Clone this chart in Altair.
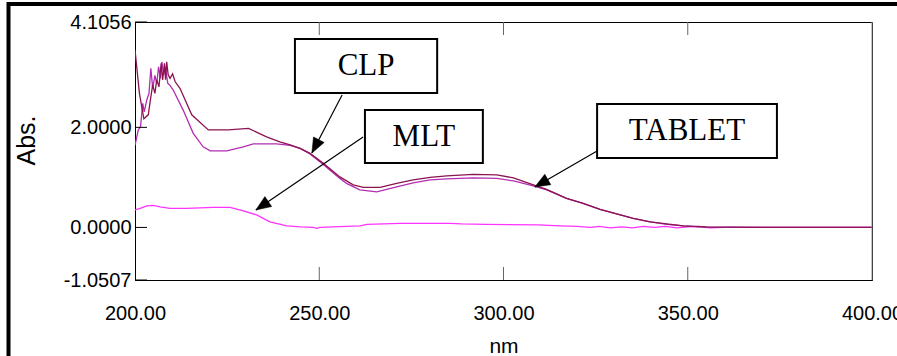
import math
import altair as alt
import pandas as pd

# ---------------- data ----------------
clp_nm = [200.0, 201.2, 202.4, 203.6, 204.3, 204.8, 205.4, 205.9, 206.5, 207.1, 207.5, 208.0,
          208.3, 208.6, 209.0, 209.5, 210.2, 210.9, 212.2, 215.4, 219.9, 225.3, 230.8, 235.7,
          239.3, 242.1, 244.8, 247.5, 251.1, 255.6, 259.2, 262.0, 266.5, 271.0, 275.5, 280.1,
          284.6, 291.8, 298.2, 302.7, 308.1, 311.7, 317.1, 321.6, 326.2, 330.7, 335.2, 339.8,
          344.3, 348.8, 355.1, 370.0, 400.0]
clp_abs = [3.55, 2.68, 2.17, 2.25, 2.61, 2.85, 2.68, 2.95, 2.81, 3.28, 2.95, 3.28,
           2.95, 3.31, 3.05, 2.98, 3.07, 2.91, 2.78, 2.25, 1.95, 1.95, 1.98, 1.81,
           1.71, 1.65, 1.58, 1.48, 1.28, 1.01, 0.85, 0.80, 0.80, 0.88, 0.95, 1.00,
           1.03, 1.06, 1.05, 0.99, 0.85, 0.76, 0.58, 0.48, 0.36, 0.27, 0.18, 0.11,
           0.07, 0.03, 0.01, 0.0, 0.0]

tablet_nm = [200.0, 200.9, 201.5, 202.1, 202.5, 203.2, 203.8, 204.3, 204.8, 205.4, 205.9, 206.4,
             206.9, 207.3, 207.8, 208.2, 208.9, 209.5, 210.4, 213.1, 215.8, 218.5, 220.4, 224.9,
             229.4, 232.1, 238.4, 242.1, 244.8, 247.5, 251.1, 255.6, 257.4, 261.0, 265.6, 271.0,
             275.5, 280.1, 284.6, 291.8, 298.2, 302.7, 308.1, 311.7, 317.1, 321.6, 326.2, 330.7,
             335.2, 339.8, 344.3, 348.8, 355.1, 370.0, 400.0]
tablet_abs = [1.64, 1.95, 2.01, 2.48, 2.31, 2.55, 2.68, 3.18, 2.78, 3.04, 2.88, 3.21,
              2.98, 3.31, 3.05, 3.21, 2.88, 2.84, 2.74, 2.34, 1.88, 1.61, 1.53, 1.53,
              1.61, 1.67, 1.67, 1.64, 1.58, 1.47, 1.26, 0.98, 0.88, 0.75, 0.71, 0.81,
              0.89, 0.95, 0.97, 0.99, 0.98, 0.93, 0.83, 0.75, 0.58, 0.48, 0.36, 0.27,
              0.18, 0.11, 0.06, 0.03, 0.0, 0.0, 0.0]

mlt_nm = [200.0, 201.4, 203.2, 205.0, 206.8, 209.5, 214.0, 221.2, 225.8, 229.4, 233.0, 236.6,
          241.2, 245.0, 248.4, 249.3, 250.2, 253.8, 261.1, 262.9, 271.9, 285.5, 288.6, 295.0,
          309.4, 315.3, 320.0, 323.5, 326.0, 329.0, 332.0, 335.0, 338.0, 341.0, 344.0, 347.0,
          350.0, 353.0, 356.0, 360.0, 367.0, 380.0, 400.0]
mlt_abs = [0.35, 0.38, 0.43, 0.44, 0.41, 0.38, 0.38, 0.40, 0.40, 0.33, 0.25, 0.11,
           0.03, 0.01, 0.00, -0.02, 0.00, 0.01, 0.03, 0.06, 0.08, 0.08, 0.07, 0.06,
           0.05, 0.03, 0.02, 0.00, 0.02, -0.01, 0.01, -0.01, 0.02, 0.00, 0.02, -0.01,
           0.01, 0.02, -0.01, 0.00, 0.00, 0.00, 0.00]

series_names = ["MLT", "TABLET", "CLP"]
series_colors = ["#FF33FF", "#B32DB3", "#8B1450"]

x_ticks = [200, 250, 300, 350, 400]
inner_x_ticks = [250, 300, 350]
y_ticks = [-1.0507, 0.0, 2.0, 4.1056]
y_tick_labels = ["-1.0507", "0.0000", "2.0000", "4.1056"]

# annotations (data coordinates)
ann_labels = ["CLP", "MLT", "TABLET"]
box_x1 = [243.4, 262.4, 325.4]
box_x2 = [282.0, 294.4, 374.2]
box_y1 = [3.765, 2.346, 2.466]
box_y2 = [2.686, 1.287, 1.387]
text_x = [262.7, 278.4, 349.8]
text_y = [3.225, 1.817, 1.926]
arrow_x1 = [256.2, 261.9, 325.4]
arrow_y1 = [2.646, 1.807, 1.527]
arrow_x2 = [248.0, 232.8, 308.5]
arrow_y2 = [1.487, 0.348, 0.808]

# ---------------- layout ----------------
W, H = 737, 258
X_DOM = [200, 400]
Y_DOM = [-1.0507, 4.1056]
AX_FONT = "Liberation Sans Narrow, Arial Narrow, Liberation Sans, sans-serif"

rows = []
for name, xs, ys in [("MLT", mlt_nm, mlt_abs), ("TABLET", tablet_nm, tablet_abs), ("CLP", clp_nm, clp_abs)]:
    for a, b in zip(xs, ys):
        rows.append({"nm": a, "abs": b, "series": name})
df = pd.DataFrame(rows)

sx = W / (X_DOM[1] - X_DOM[0])
sy = H / (Y_DOM[1] - Y_DOM[0])
angles = []
for i in range(len(ann_labels)):
    dx = (arrow_x2[i] - arrow_x1[i]) * sx
    dy = -(arrow_y2[i] - arrow_y1[i]) * sy
    angles.append(math.degrees(math.atan2(dx, -dy)) % 360)

ann = pd.DataFrame({
    "label": ann_labels, "bx1": box_x1, "bx2": box_x2, "by1": box_y1, "by2": box_y2,
    "tx": text_x, "ty": text_y, "ax1": arrow_x1, "ay1": arrow_y1, "ax2": arrow_x2,
    "ay2": arrow_y2, "angle": angles,
})

label_expr = "'" + y_tick_labels[-1] + "'"
for v, lab in reversed(list(zip(y_ticks[:-1], y_tick_labels[:-1]))):
    label_expr = f"abs(datum.value - ({v})) < 1e-6 ? '{lab}' : " + label_expr

xscale = alt.Scale(domain=X_DOM, nice=False, zero=False)
yscale = alt.Scale(domain=Y_DOM, nice=False, zero=False)

x_axis = alt.Axis(
    values=x_ticks, format=".2f", title="nm", ticks=False, grid=False,
    domainColor="black", labelPadding=23, labelFontSize=20, labelFont=AX_FONT,
    labelColor="black", labelFlush=False, labelOverlap=False,
    titleFont=AX_FONT, titleFontSize=21, titleFontWeight="normal", titleColor="black",
    titleY=55, titleBaseline="top")
y_axis = alt.Axis(
    values=y_ticks, labelExpr=label_expr, title="Abs.", ticks=False, grid=False,
    domainColor="black", labelPadding=4, labelFontSize=20, labelFont=AX_FONT,
    labelColor="black", labelFlush=False, labelOverlap=False,
    titleFont=AX_FONT, titleFontSize=25, titleFontWeight="normal", titleColor="black",
    titleX=-109, titleY=118, titleAlign="center", titleBaseline="middle")


def X(field):
    return alt.X(field, scale=xscale, axis=x_axis, title="nm")


def Y(field):
    return alt.Y(field, scale=yscale, axis=y_axis, title="Abs.")


lines = alt.Chart(df).mark_line(strokeWidth=1.3, clip=True).encode(
    x=X("nm:Q"),
    y=Y("abs:Q"),
    color=alt.Color("series:N", scale=alt.Scale(domain=series_names, range=series_colors), legend=None),
    order=alt.Order("nm:Q"),
    detail="series:N",
)

left_ticks = alt.Chart(pd.DataFrame({"v": y_ticks})).mark_rule(color="black", strokeWidth=1).encode(
    y=Y("v:Q"), x=alt.value(0), x2=alt.value(12))
bottom_ticks = alt.Chart(pd.DataFrame({"v": inner_x_ticks})).mark_rule(color="#666666", strokeWidth=1).encode(
    x=X("v:Q"), y=alt.value(H), y2=alt.value(H - 13))
top_ticks = alt.Chart(pd.DataFrame({"v": inner_x_ticks})).mark_rule(color="#666666", strokeWidth=1).encode(
    x=X("v:Q"), y=alt.value(0), y2=alt.value(13))
right_edge = alt.Chart(pd.DataFrame({"v": [0]})).mark_rule(color="#888888", strokeWidth=1).encode(
    x=alt.value(W), y=alt.value(0), y2=alt.value(H))

arrows = alt.Chart(ann).mark_rule(color="black", strokeWidth=1.2).encode(
    x=X("ax1:Q"), x2="ax2:Q", y=Y("ay1:Q"), y2="ay2:Q")
heads = alt.Chart(ann).mark_point(
    shape="M0,0 L0.8,2 L-0.8,2 Z", filled=True, fill="black", stroke="black",
    strokeWidth=0.5, size=225, opacity=1).encode(
    x=X("ax2:Q"), y=Y("ay2:Q"),
    angle=alt.Angle("angle:Q", scale=None))
boxes = alt.Chart(ann).mark_rect(fill="white", stroke="black", strokeWidth=2).encode(
    x=X("bx1:Q"), x2="bx2:Q", y=Y("by1:Q"), y2="by2:Q")
texts = alt.Chart(ann).mark_text(font="Liberation Serif, Times New Roman, serif", fontSize=31,
                                 color="black", align="center", baseline="middle").encode(
    x=X("tx:Q"), y=Y("ty:Q"), text="label:N")

frame = alt.Chart(pd.DataFrame({"v": [0]})).mark_rect(
    fillOpacity=0, stroke="black", strokeWidth=4).encode(
    x=alt.value(-126.5), x2=alt.value(790), y=alt.value(-18), y2=alt.value(350))

chart = alt.layer(
    lines, left_ticks, bottom_ticks, top_ticks, right_edge, arrows, heads, boxes, texts, frame
).properties(
    width=W, height=H,
    background="white",
    autosize=alt.AutoSizeParams(type="none"),
    padding={"left": 135, "top": 22, "right": 25, "bottom": 76},
).configure_view(stroke="black", strokeWidth=1)

chart.save("out.html", embed_options={"renderer": "svg", "actions": False})
